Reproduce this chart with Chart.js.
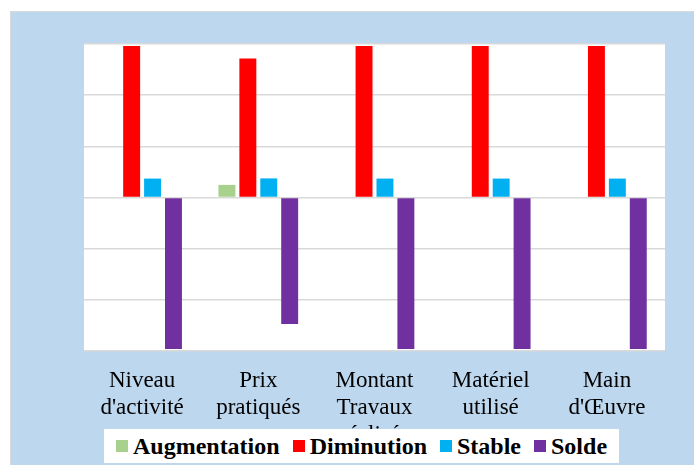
<!DOCTYPE html>
<html>
<head>
<meta charset="utf-8">
<script src="https://cdn.jsdelivr.net/npm/chart.js@4"></script>
<style>
  html, body { margin: 0; padding: 0; background: #fff; }
  body { width: 694px; height: 465px; position: relative; overflow: hidden; }
  #panel {
    position: absolute; left: 10px; top: 11px; width: 684px; height: 454px;
    background: #bdd7ee; border-top: 1px solid #d9d9d9; border-left: 1px solid #d9d9d9;
    box-sizing: border-box;
  }
  #panel canvas { position: absolute; left: 0; top: 0; }
  #legend {
    position: absolute; left: 93px; top: 417px; width: 515px; height: 34px;
    background: #fff; display: flex; align-items: center; justify-content: center;
    font-family: "Liberation Serif", "DejaVu Serif", serif; font-weight: bold; font-size: 24px;
    color: #000; white-space: nowrap;
  }
  #legend span.sw { display: inline-block; width: 12px; height: 12px; margin: 0 5px 0 13px; }
  #legend span.sw:first-child { margin-left: 0; }
</style>
</head>
<body>
<div id="panel">
  <canvas id="chart" width="683" height="453"></canvas>
  <div id="legend"></div>
</div>
<script>
// Categories and series (percent)
const categories = [
  ["Niveau", "d'activité"],
  ["Prix", "pratiqués"],
  ["Montant", "Travaux", "réalisés"],
  ["Matériel", "utilisé"],
  ["Main", "d'Œuvre"]
]
const augmentation = [0, 7.4, 0, 0, 0]
const diminution   = [88.9, 81.5, 88.9, 88.9, 88.9]
const stable       = [11.1, 11.2, 11.1, 11.1, 11.1]
const solde        = [-88.9, -74.1, -88.9, -88.9, -88.9]

const series = [
  { label: "Augmentation", data: augmentation, color: "#a9d18e" },
  { label: "Diminution",   data: diminution,   color: "#ff0000" },
  { label: "Stable",       data: stable,       color: "#00b0f0" },
  { label: "Solde",        data: solde,        color: "#7030a0" },
]

// white plot area on the blue panel
const plotBg = {
  id: "plotBg",
  beforeDraw(chart) {
    const { ctx, chartArea: a } = chart
    ctx.save()
    ctx.fillStyle = "#fff"
    ctx.fillRect(a.left, a.top, a.right - a.left, a.bottom - a.top)
    ctx.restore()
  }
}

new Chart(document.getElementById("chart"), {
  type: "bar",
  data: {
    labels: categories,
    datasets: series.map((s) => ({
      label: s.label,
      data: s.data,
      backgroundColor: s.color,
      categoryPercentage: 0.72,
      barPercentage: 0.81,
    }))
  },
  options: {
    responsive: false,
    animation: false,
    layout: { padding: { left: 73, right: 29, top: 32, bottom: 0 } },
    plugins: { legend: { display: false }, tooltip: { enabled: false } },
    scales: {
      x: {
        grid: { display: false, drawTicks: false },
        border: { display: false },
        ticks: {
          color: "#000", padding: 16, maxRotation: 0, autoSkip: false,
          font: { family: "'Liberation Serif', 'DejaVu Serif', serif", size: 23, lineHeight: 1.18 }
        },
        afterFit(scale) { scale.height = 114 }
      },
      y: {
        min: -90, max: 90,
        ticks: { display: false, stepSize: 30 },
        grid: { color: "#d9d9d9", lineWidth: 1.5, drawTicks: false },
        border: { display: false },
        afterFit(scale) { scale.width = 0 }
      }
    }
  },
  plugins: [plotBg]
})

const legend = document.getElementById("legend")
series.forEach((s) => {
  const sw = document.createElement("span")
  sw.className = "sw"
  sw.style.background = s.color
  legend.appendChild(sw)
  legend.appendChild(document.createTextNode(s.label))
})
</script>
</body>
</html>
